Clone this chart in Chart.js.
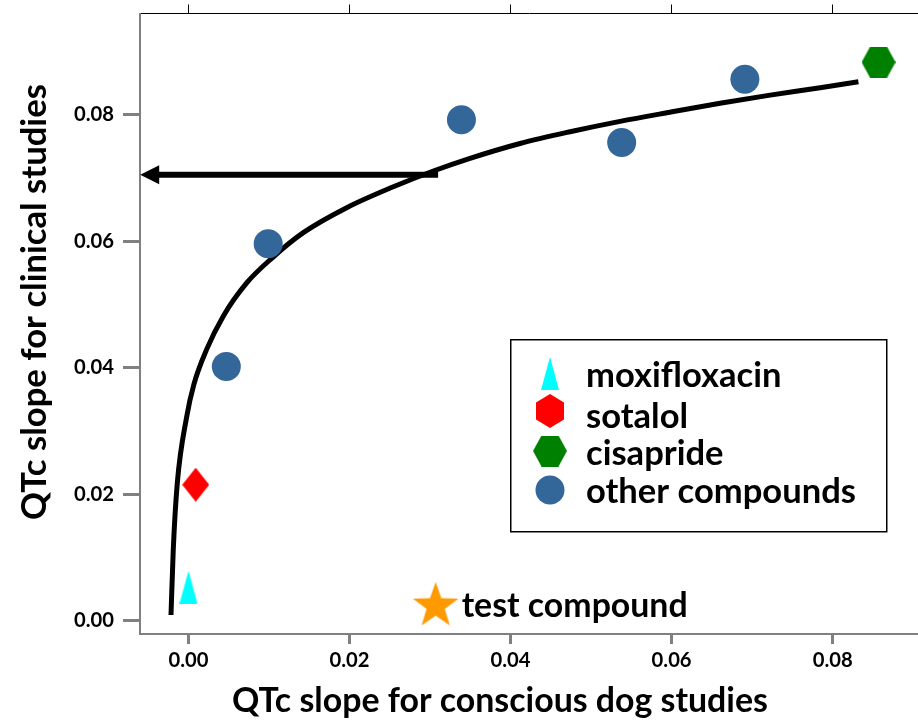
<!DOCTYPE html>
<html>
<head>
<meta charset="utf-8">
<script src="https://cdn.jsdelivr.net/npm/chart.js@4.4.1/dist/chart.umd.min.js"></script>
<style>
  html, body { margin: 0; padding: 0; background: #ffffff; overflow: hidden; }
  canvas { display: block; }
</style>
</head>
<body>
<canvas id="c" width="918" height="723" style="width:918px;height:723px"></canvas>
<script>
// ---------- data ----------
const xTicks = [0.00, 0.02, 0.04, 0.06, 0.08];
const yTicks = [0.00, 0.02, 0.04, 0.06, 0.08];

const fitX = [-0.00217, -0.00189, -0.00139, -0.00022, 0.00068, 0.00226, 0.00432, 0.00723, 0.01034,
              0.01426, 0.01965, 0.02544, 0.03041, 0.03497, 0.04118, 0.04739, 0.05360, 0.05981,
              0.06602, 0.07224, 0.07845, 0.08320];
const fitY = [0.00090, 0.01118, 0.02172, 0.03225, 0.03740, 0.04290, 0.04815, 0.05340, 0.05730,
              0.06135, 0.06530, 0.06860, 0.07110, 0.07310, 0.07545, 0.07731, 0.07895, 0.08040,
              0.08180, 0.08310, 0.08425, 0.08522];

const arrowX = [0.0310, -0.0060];
const arrowY = [0.0705, 0.0705];

const moxifloxacinX = [0.0000];
const moxifloxacinY = [0.0053];
const sotalolX = [0.0009];
const sotalolY = [0.0215];
const cisaprideX = [0.0857];
const cisaprideY = [0.0883];
const otherX = [0.0047, 0.0099, 0.0339, 0.0538, 0.0691];
const otherY = [0.0402, 0.0596, 0.0792, 0.0756, 0.0856];
const testX = [0.0307];
const testY = [0.0027];

const legendLabels = ['moxifloxacin', 'sotalol', 'cisapride', 'other compounds'];
const testLabel = 'test compound';
const xTitle = 'QTc slope for conscious dog studies';
const yTitle = 'QTc slope for clinical studies';

// ---------- styles ----------
const FONT = 'Lato, "Open Sans", "DejaVu Sans", sans-serif';
const XMIN = -0.00602, XMAX = 0.0906, YMIN = -0.0021, YMAX = 0.0960;
const AREA = {left: 140, top: 13.5, right: 918, bottom: 634};
const BLUE = '#336699', CYAN = '#00ffff', RED = '#ff0000', GREEN = '#008000', ORANGE = '#ff9900';

const mctx = document.createElement('canvas').getContext('2d');
function fitSize(text, width) {
  mctx.font = 'bold 100px ' + FONT;
  return 100 * width / mctx.measureText(text).width;
}
const tickSize = fitSize('0.08', 40);
const legendSize = fitSize('other compounds', 270);
const testSize = fitSize(testLabel, 226);
const xTitleSize = fitSize(xTitle, 536);
const yTitleSize = fitSize(yTitle, 436);

function makeCanvas(w, h, draw) {
  const c = document.createElement('canvas');
  c.width = w; c.height = h;
  const g = c.getContext('2d');
  draw(g, w, h);
  return c;
}
function poly(g, pts, color) {
  g.beginPath();
  g.moveTo(pts[0][0], pts[0][1]);
  for (let i = 1; i < pts.length; i++) g.lineTo(pts[i][0], pts[i][1]);
  g.closePath();
  g.fillStyle = color;
  g.fill();
}
const triangleImg = makeCanvas(18, 33, (g, w, h) => poly(g, [[w/2, 0], [w, h], [0, h]], CYAN));
const diamondImg = makeCanvas(27, 34, (g, w, h) => poly(g, [[w/2, 0], [w, h/2], [w/2, h], [0, h/2]], RED));
const hexFlatImg = makeCanvas(34, 31, (g, w, h) => poly(g, [[w*0.25, 0], [w*0.75, 0], [w, h/2], [w*0.75, h], [w*0.25, h], [0, h/2]], GREEN));
const hexPointyImg = makeCanvas(28, 34, (g, w, h) => poly(g, [[w/2, 0], [w, h*0.25], [w, h*0.75], [w/2, h], [0, h*0.75], [0, h*0.25]], RED));
const circleImg = makeCanvas(30, 30, (g, w, h) => { g.beginPath(); g.arc(15, 15, 14.5, 0, Math.PI*2); g.fillStyle = BLUE; g.fill(); });
const starImg = makeCanvas(48, 48, (g, w, h) => {
  const R = 24, r = R * 0.40, cx = w/2, cy = h/2 + 0.0955 * R;
  const pts = [];
  for (let i = 0; i < 10; i++) {
    const a = -Math.PI/2 + i * Math.PI/5;
    const rr = (i % 2 === 0) ? R : r;
    pts.push([cx + rr*Math.cos(a), cy + rr*Math.sin(a)]);
  }
  poly(g, pts, ORANGE);
});

const toPts = (xs, ys) => xs.map((x, i) => ({x: x, y: ys[i]}));

// pin the plot area to the reference's frame
const areaPlugin = {
  id: 'area',
  afterLayout(chart) {
    const ca = chart.chartArea;
    ca.left = AREA.left; ca.right = AREA.right; ca.top = AREA.top; ca.bottom = AREA.bottom;
    ca.width = ca.right - ca.left; ca.height = ca.bottom - ca.top;
    const sx = chart.scales.x, sx2 = chart.scales.x2, sy = chart.scales.y;
    [sx, sx2].forEach(s => { s.left = AREA.left; s.right = AREA.right; s.width = AREA.right - AREA.left; });
    sx.top = AREA.bottom; sx.bottom = 723; sx.height = 723 - AREA.bottom;
    sx2.top = 0; sx2.bottom = AREA.top; sx2.height = AREA.top;
    sy.top = AREA.top; sy.bottom = AREA.bottom; sy.height = AREA.bottom - AREA.top;
    sy.left = 0; sy.right = AREA.left; sy.width = AREA.left;
    [sx, sx2, sy].forEach(s => s.configure());
  }
};

const annotPlugin = {
  id: 'annot',
  afterDatasetsDraw(chart) {
    const ctx = chart.ctx;
    const xs = chart.scales.x, ys = chart.scales.y;
    ctx.save();
    // arrow
    const ax0 = xs.getPixelForValue(arrowX[0]), ax1 = xs.getPixelForValue(arrowX[1]);
    const ay = ys.getPixelForValue(arrowY[0]);
    ctx.strokeStyle = '#000'; ctx.lineWidth = 6; ctx.lineCap = 'butt';
    ctx.beginPath(); ctx.moveTo(ax0, ay); ctx.lineTo(ax1 + 14, ay); ctx.stroke();
    ctx.beginPath(); ctx.moveTo(ax1, ay); ctx.lineTo(ax1 + 19, ay - 9.5); ctx.lineTo(ax1 + 19, ay + 9.5); ctx.closePath();
    ctx.fillStyle = '#000'; ctx.fill();

    // test compound label
    ctx.fillStyle = '#000';
    ctx.font = 'bold ' + testSize.toFixed(2) + 'px ' + FONT;
    ctx.textAlign = 'left'; ctx.textBaseline = 'alphabetic';
    ctx.fillText(testLabel, xs.getPixelForValue(testX[0]) + 26, 617);

    // legend box
    ctx.strokeStyle = '#000'; ctx.lineWidth = 1.5;
    ctx.strokeRect(510.75, 339.75, 376, 192);
    const imgs = [triangleImg, hexPointyImg, hexFlatImg, circleImg];
    const cy = [373.5, 411, 451, 490];
    const by = [387, 428, 465, 503];
    ctx.font = 'bold ' + legendSize.toFixed(2) + 'px ' + FONT;
    for (let i = 0; i < legendLabels.length; i++) {
      const im = imgs[i];
      ctx.drawImage(im, 550 - im.width/2, cy[i] - im.height/2);
      ctx.fillText(legendLabels[i], 586, by[i]);
    }

    // axis titles
    ctx.textAlign = 'center';
    ctx.font = 'bold ' + xTitleSize.toFixed(2) + 'px ' + FONT;
    ctx.fillText(xTitle, 500, 712);
    ctx.font = 'bold ' + yTitleSize.toFixed(2) + 'px ' + FONT;
    ctx.translate(46, 302);
    ctx.rotate(-Math.PI/2);
    ctx.fillText(yTitle, 0, 0);
    ctx.restore();
  }
};

const tickFont = {family: FONT, size: tickSize, weight: 'bold'};
const noPad = (s) => { s.paddingLeft = 0; s.paddingRight = 0; s.paddingTop = 0; s.paddingBottom = 0; };

new Chart(document.getElementById('c'), {
  type: 'scatter',
  data: {
    datasets: [
      {label: 'fit', type: 'line', data: toPts(fitX, fitY), borderColor: '#000', borderWidth: 5,
       pointRadius: 0, cubicInterpolationMode: 'monotone', fill: false, order: 2},
      {label: legendLabels[0], data: toPts(moxifloxacinX, moxifloxacinY), pointStyle: triangleImg, order: 0},
      {label: legendLabels[1], data: toPts(sotalolX, sotalolY), pointStyle: diamondImg, order: 0},
      {label: legendLabels[2], data: toPts(cisaprideX, cisaprideY), pointStyle: hexFlatImg, order: 0},
      {label: legendLabels[3], data: toPts(otherX, otherY), pointStyle: 'circle', pointRadius: 14.5,
       backgroundColor: BLUE, borderWidth: 0, order: 0},
      {label: testLabel, data: toPts(testX, testY), pointStyle: starImg, order: 0}
    ]
  },
  options: {
    responsive: false,
    maintainAspectRatio: false,
    animation: false,
    devicePixelRatio: 1,
    events: [],
    layout: {padding: 0},
    plugins: {legend: {display: false}, tooltip: {enabled: false}, title: {display: false}},
    scales: {
      x: {
        type: 'linear', position: 'bottom', min: XMIN, max: XMAX,
        afterBuildTicks: (s) => { s.ticks = xTicks.map(v => ({value: v})); },
        afterFit: (s) => { s.height = 89; noPad(s); },
        ticks: {font: tickFont, color: '#000', padding: 4, maxRotation: 0, autoSkip: false,
                callback: (v) => Number(v).toFixed(2)},
        grid: {drawOnChartArea: false, drawTicks: true, tickLength: 10, tickColor: '#808080', tickWidth: 3},
        border: {display: true, color: '#808080', width: 2}
      },
      x2: {
        type: 'linear', position: 'top', min: XMIN, max: XMAX,
        afterBuildTicks: (s) => { s.ticks = xTicks.map(v => ({value: v})); },
        afterFit: (s) => { s.height = 13.5; noPad(s); },
        ticks: {display: false},
        grid: {drawOnChartArea: false, drawTicks: true, tickLength: 9, tickColor: '#000', tickWidth: 1},
        border: {display: true, color: '#000', width: 1}
      },
      y: {
        type: 'linear', position: 'left', min: YMIN, max: YMAX,
        afterBuildTicks: (s) => { s.ticks = yTicks.map(v => ({value: v})); },
        afterFit: (s) => { s.width = 140; noPad(s); },
        ticks: {font: tickFont, color: '#000', padding: 9, autoSkip: false,
                callback: (v) => Number(v).toFixed(2)},
        grid: {drawOnChartArea: false, drawTicks: true, tickLength: 17, tickColor: '#808080', tickWidth: 3},
        border: {display: true, color: '#808080', width: 2}
      }
    }
  },
  plugins: [areaPlugin, annotPlugin]
});
</script>
</body>
</html>
